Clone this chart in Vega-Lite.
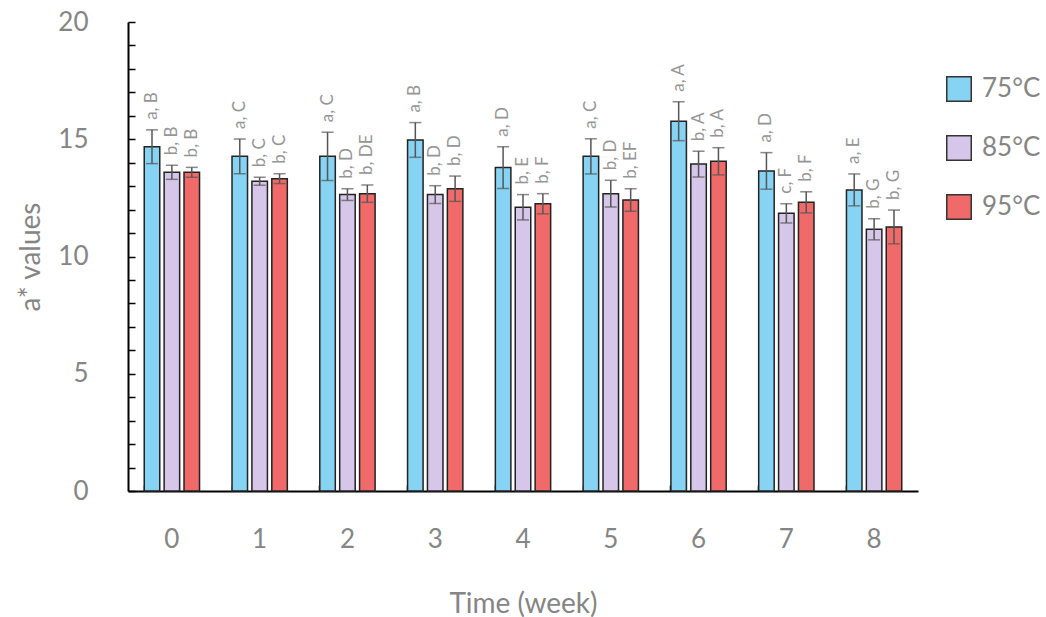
{
  "$schema": "https://vega.github.io/schema/vega-lite/v6.json",
  "autosize": "none",
  "width": 790,
  "height": 469,
  "padding": {"left": 128, "top": 22, "right": 128, "bottom": 126},
  "background": "white",
  "config": {
    "view": {"stroke": null},
    "font": "Lato",
    "axisY": {
      "titleFontSize": 28, "titleFontWeight": "normal", "titleColor": "#858585", "titlePadding": 12,
      "labelOverlap": false,
      "labelFontSize": 26, "labelColor": "#858585", "labelPadding": 47,
      "domainColor": "#000000", "domainWidth": 2,
      "tickColor": "#000000", "tickWidth": 1.5, "tickSize": -7, "grid": false
    }
  },
  "data": {
    "values": [
      {"week": "0", "temp": "75°C", "value": 14.68, "err": 0.72, "hi": 15.40, "label": "a, B"},
      {"week": "0", "temp": "85°C", "value": 13.59, "err": 0.30, "hi": 13.89, "label": "b, B"},
      {"week": "0", "temp": "95°C", "value": 13.59, "err": 0.21, "hi": 13.80, "label": "b, B"},
      {"week": "1", "temp": "75°C", "value": 14.27, "err": 0.74, "hi": 15.01, "label": "a, C"},
      {"week": "1", "temp": "85°C", "value": 13.21, "err": 0.17, "hi": 13.38, "label": "b, C"},
      {"week": "1", "temp": "95°C", "value": 13.32, "err": 0.21, "hi": 13.53, "label": "b, C"},
      {"week": "2", "temp": "75°C", "value": 14.27, "err": 1.03, "hi": 15.30, "label": "a, C"},
      {"week": "2", "temp": "85°C", "value": 12.64, "err": 0.25, "hi": 12.89, "label": "b, D"},
      {"week": "2", "temp": "95°C", "value": 12.68, "err": 0.37, "hi": 13.05, "label": "b, DE"},
      {"week": "3", "temp": "75°C", "value": 14.97, "err": 0.74, "hi": 15.71, "label": "a, B"},
      {"week": "3", "temp": "85°C", "value": 12.64, "err": 0.38, "hi": 13.02, "label": "b, D"},
      {"week": "3", "temp": "95°C", "value": 12.89, "err": 0.54, "hi": 13.43, "label": "b, D"},
      {"week": "4", "temp": "75°C", "value": 13.79, "err": 0.89, "hi": 14.68, "label": "a, D"},
      {"week": "4", "temp": "85°C", "value": 12.10, "err": 0.54, "hi": 12.64, "label": "b, E"},
      {"week": "4", "temp": "95°C", "value": 12.25, "err": 0.43, "hi": 12.68, "label": "b, F"},
      {"week": "5", "temp": "75°C", "value": 14.27, "err": 0.75, "hi": 15.02, "label": "a, C"},
      {"week": "5", "temp": "85°C", "value": 12.68, "err": 0.57, "hi": 13.25, "label": "b, D"},
      {"week": "5", "temp": "95°C", "value": 12.41, "err": 0.48, "hi": 12.89, "label": "b, EF"},
      {"week": "6", "temp": "75°C", "value": 15.77, "err": 0.83, "hi": 16.60, "label": "a, A"},
      {"week": "6", "temp": "85°C", "value": 13.94, "err": 0.55, "hi": 14.49, "label": "b, A"},
      {"week": "6", "temp": "95°C", "value": 14.06, "err": 0.58, "hi": 14.64, "label": "b, A"},
      {"week": "7", "temp": "75°C", "value": 13.65, "err": 0.78, "hi": 14.43, "label": "a, D"},
      {"week": "7", "temp": "85°C", "value": 11.84, "err": 0.41, "hi": 12.25, "label": "c, F"},
      {"week": "7", "temp": "95°C", "value": 12.31, "err": 0.45, "hi": 12.76, "label": "b, F"},
      {"week": "8", "temp": "75°C", "value": 12.84, "err": 0.68, "hi": 13.52, "label": "a, E"},
      {"week": "8", "temp": "85°C", "value": 11.16, "err": 0.45, "hi": 11.61, "label": "b, G"},
      {"week": "8", "temp": "95°C", "value": 11.26, "err": 0.72, "hi": 11.98, "label": "b, G"}
    ]
  },
  "encoding": {
    "x": {
      "field": "week", "type": "ordinal",
      "scale": {"paddingInner": 0.37, "paddingOuter": 0.185},
      "axis": {
        "title": "Time (week)", "titleFontSize": 28, "titleFontWeight": "normal", "titleColor": "#858585", "titlePadding": 38,
        "labelAngle": 0, "labelFontSize": 26, "labelColor": "#858585", "labelPadding": 41,
        "domainColor": "#000000", "domainWidth": 2,
        "tickColor": "#000000", "tickWidth": 1.5, "tickSize": -6, "bandPosition": 0
      }
    },
    "xOffset": {"field": "temp", "type": "nominal", "scale": {"paddingInner": 0.22, "paddingOuter": 0}},
    "y": {
      "field": "value", "type": "quantitative", "title": "a* values",
      "scale": {"domain": [0, 20], "nice": false},
      "axis": {
        "title": "a* values",
        "values": [0,1,2,3,4,5,6,7,8,9,10,11,12,13,14,15,16,17,18,19,20],
        "labelExpr": "datum.value % 5 === 0 ? datum.label : ''"
      }
    }
  },
  "layer": [
    {
      "mark": {"type": "bar", "stroke": "#222222", "strokeWidth": 1.5},
      "encoding": {
        "fill": {
          "field": "temp", "type": "nominal",
          "scale": {"domain": ["75°C", "85°C", "95°C"], "range": ["#86d3f3", "#d6c6ea", "#f06a6a"]},
          "legend": {
            "title": null, "orient": "none", "legendX": 818, "legendY": 54,
            "symbolType": "square", "symbolSize": 600, "symbolStrokeColor": "#333333", "symbolStrokeWidth": 1.5,
            "labelFontSize": 26, "labelColor": "#858585", "labelOffset": 10, "rowPadding": 27
          }
        }
      }
    },
    {
      "mark": {"type": "errorbar", "ticks": {"color": "#555555", "size": 12, "thickness": 1.5}, "rule": {"color": "#555555", "strokeWidth": 1.5}},
      "encoding": {
        "yError": {"field": "err"}
      }
    },
    {
      "mark": {"type": "text", "angle": 270, "align": "left", "baseline": "middle", "dx": 10, "fontSize": 17, "color": "#959595"},
      "encoding": {
        "y": {
          "field": "hi", "type": "quantitative", "title": "a* values",
          "axis": {
            "title": "a* values",
            "values": [0,1,2,3,4,5,6,7,8,9,10,11,12,13,14,15,16,17,18,19,20],
            "labelExpr": "datum.value % 5 === 0 ? datum.label : ''"
          }
        },
        "text": {"field": "label"}
      }
    }
  ]
}
